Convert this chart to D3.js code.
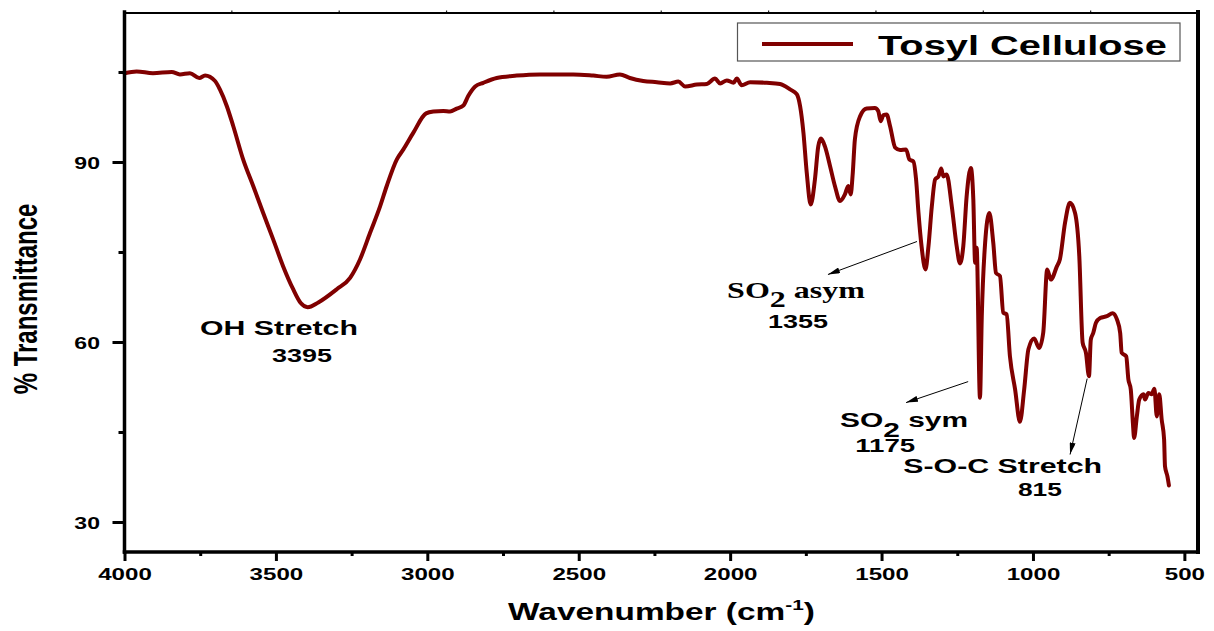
<!DOCTYPE html>
<html>
<head>
<meta charset="utf-8">
<title>FTIR spectrum – Tosyl Cellulose</title>
<script src="https://cdn.jsdelivr.net/npm/d3@7"></script>
<style>
  body { margin: 0; background: #fff; }
  svg { display: block; }
  text { font-family: "Liberation Sans", Arial, sans-serif; font-weight: bold; fill: #000; }
</style>
</head>
<body>
<svg id="chart" width="1214" height="631"></svg>
<script>
// ---- spectrum data: wavenumber (cm^-1) and % transmittance ----
const wavenumber = [
  4000,3960,3906,3844,3817,3784,3753,3734,3701,3685,
  3662,3641,3608,3575,3542,3509,3476,3443,3418,3395,
  3360,3299,3255,3222,3189,3156,3134,3101,3079,3046,
  3004,2980,2947,2925,2903,2881,2865,2842,2815,2771,
  2705,2628,2584,2518,2452,2408,2364,2331,2287,2242,
  2198,2171,2149,2110,2077,2050,2033,2011,1989,1978,
  1962,1934,1879,1835,1802,1780,1769,1758,1747,1734,
  1720,1709,1700,1687,1670,1654,1637,1621,1610,1602,
  1595,1588,1571,1549,1522,1511,1503,1494,1483,1472,
  1455,1439,1419,1408,1395,1386,1378,1368,1355,1345,
  1334,1323,1312,1303,1296,1285,1268,1252,1241,1230,
  1219,1205,1197,1191,1186,1175,1169,1158,1144,1131,
  1122,1109,1098,1087,1076,1059,1043,1029,1015,996,
  980,966,953,941,921,911,894,878,861,847,
  836,825,815,809,801,792,778,756,737,723,
  712,707,692,685,677,670,666,657,649,635,
  630,619,608,599,591,583,575,567,564,556,551
];
const transmittance = [
  104.8,105.1,104.8,105.0,104.6,104.8,104.0,104.4,103.5,102.1,
  99.3,96.0,90.4,86.0,81.5,77.1,72.6,68.8,66.5,65.8,
  66.6,68.8,70.7,73.8,78.2,82.6,86.0,90.4,92.1,94.9,
  98.1,98.4,98.5,98.4,98.9,99.4,101.0,102.6,103.2,104.0,
  104.4,104.6,104.6,104.6,104.4,104.2,104.6,104.0,103.5,103.3,
  103.1,103.4,102.6,102.9,103.0,103.9,103.1,103.6,103.2,103.9,
  102.8,103.3,103.2,103.0,102.1,101.3,99.3,94.9,88.2,82.9,
  87.1,92.6,93.9,92.6,89.3,86.0,83.5,84.6,86.0,84.6,
  88.2,93.8,97.6,98.9,99.0,98.5,96.8,97.8,97.9,96.0,
  92.4,92.0,92.1,90.4,90.1,87.1,81.5,76.0,72.1,76.0,
  82.6,87.1,87.6,88.9,87.6,87.9,82.6,76.0,73.1,76.0,
  84.3,89.0,83.8,73.2,75.7,50.7,64.3,76.5,81.5,76.5,
  71.5,71.0,64.9,64.6,57.6,52.1,46.7,52.1,58.8,60.6,
  59.0,61.6,72.1,70.4,72.6,73.8,79.9,83.2,81.5,74.3,
  59.9,58.2,54.3,60.4,61.5,63.2,64.0,64.3,64.8,63.8,
  61.5,58.2,57.6,53.8,52.1,46.5,44.0,47.6,50.4,51.3,
  50.4,51.5,51.3,52.2,47.6,51.3,47.1,43.8,39.3,37.6,36.1
];
const seriesName = "Tosyl Cellulose";

// ---- axis ticks ----
const xMajorTicks = [4000, 3500, 3000, 2500, 2000, 1500, 1000, 500];
const xMinorTicks = [3750, 3250, 2750, 2250, 1750, 1250, 750];
const yMajorTicks = [30, 60, 90];
const yMinorTicks = [45, 75, 105];

// ---- band assignments (anchor in wavenumber / %T) ----
const bandLabels = [
  { text: "OH Stretch",    wn: 3490, t: 61.2, size: 21, width: 158 },
  { text: "3395",          wn: 3414, t: 56.7, size: 18, width: 60 },
  { text: "1355",          wn: 1776, t: 62.4, size: 18, width: 60 },
  { text: "1175",          wn: 1488, t: 41.7, size: 18, width: 60 },
  { text: "S-O-C Stretch", wn: 1100, t: 38.2, size: 21, width: 199 },
  { text: "815",           wn: 977,  t: 34.4, size: 18, width: 44 }
];
const so2Labels = [
  { main: "SO", sub: "2", rest: " asym", wn: 2010, t: 67.4, size: 23, width: 138, serif: true,  drop: 9 },
  { main: "SO", sub: "2", rest: " sym",  wn: 1637, t: 45.9, size: 21, width: 128, serif: false, drop: 10 }
];
const arrows = [
  { from: [1383, 76.75], to: [1677, 71.25] },
  { from: [1214, 53.4],  to: [1419, 49.9] },
  { from: [821, 53.9],   to: [877.5, 41.25] }
];

// ---- drawing ----
const svg = d3.select("#chart");
const lineColor = "#800000";

const x = d3.scaleLinear().domain([4000, 455]).range([124.5, 1198]);
const y = d3.scaleLinear().domain([25, 115]).range([552, 12]);
const [xl, xr] = x.range();
const [yb, yt] = y.range();

// text whose width is set explicitly (glyphs stretched horizontally)
function fitText(parent, px, py, anchor, targetWidth, build) {
  const g = parent.append("g");
  const t = g.append("text").attr("text-anchor", anchor);
  build(t);
  const w = t.node().getBBox().width;
  g.attr("transform", `translate(${px},${py}) scale(${targetWidth / w},1)`);
  return g;
}

// arrowhead marker
svg.append("defs").append("marker")
  .attr("id", "arrowhead")
  .attr("viewBox", "0 0 12 6")
  .attr("refX", 12).attr("refY", 3)
  .attr("markerWidth", 12).attr("markerHeight", 6)
  .attr("markerUnits", "userSpaceOnUse")
  .attr("orient", "auto")
  .append("path").attr("d", "M0,0 L12,3 L0,6 Z").attr("fill", "#000");

// spectrum
const points = wavenumber.map((w, i) => [w, transmittance[i]]);
svg.append("path")
  .datum(points)
  .attr("fill", "none")
  .attr("stroke", lineColor)
  .attr("stroke-width", 4)
  .attr("stroke-linejoin", "round")
  .attr("stroke-linecap", "round")
  .attr("d", d3.line().x(d => x(d[0])).y(d => y(d[1])).curve(d3.curveMonotoneX));

// x axis ticks
function styleAxis(g) {
  g.select(".domain").remove();
  g.attr("font-size", null).attr("font-family", null);
  g.selectAll(".tick line").attr("stroke", "#000").attr("stroke-width", 3);
}
const gxMinor = svg.append("g").attr("transform", `translate(0,${yb})`)
  .call(d3.axisBottom(x).tickValues(xMinorTicks).tickSize(4).tickFormat(""));
styleAxis(gxMinor);
const gx = svg.append("g").attr("transform", `translate(0,${yb})`)
  .call(d3.axisBottom(x).tickValues(xMajorTicks).tickSize(9).tickFormat(d3.format("d")));
styleAxis(gx);
gx.selectAll(".tick text")
  .attr("y", 0).attr("dy", null)
  .style("font-size", "17px")
  .attr("transform", "translate(0,28) scale(1.42,1)");

// y axis ticks
const gyMinor = svg.append("g").attr("transform", `translate(${xl},0)`)
  .call(d3.axisLeft(y).tickValues(yMinorTicks).tickSize(6).tickFormat(""));
styleAxis(gyMinor);
const gy = svg.append("g").attr("transform", `translate(${xl},0)`)
  .call(d3.axisLeft(y).tickValues(yMajorTicks).tickSize(12).tickFormat(d3.format("d")));
styleAxis(gy);
gy.selectAll(".tick text")
  .attr("x", 0).attr("dy", null).attr("y", 0)
  .style("font-size", "16px")
  .attr("transform", "translate(-24.5,6) scale(1.44,1)");

// faint marks along the top edge
const topDiv = d3.scaleLinear().domain([0, 10]).range([xl, xr]);
svg.append("g").selectAll("line").data(d3.range(1, 10)).join("line")
  .attr("x1", d => topDiv(d)).attr("x2", d => topDiv(d))
  .attr("y1", yt - 1.5).attr("y2", yt + 1)
  .attr("stroke", "#222").attr("stroke-width", 1.2);

// frame
const frame = svg.append("g").attr("stroke", "#000").attr("stroke-linecap", "square");
frame.append("line").attr("x1", xl).attr("x2", xr).attr("y1", yt + 1).attr("y2", yt + 1).attr("stroke-width", 2);
frame.append("line").attr("x1", xl).attr("x2", xl).attr("y1", yt).attr("y2", yb).attr("stroke-width", 3.5);
frame.append("line").attr("x1", xr).attr("x2", xr).attr("y1", yt).attr("y2", yb).attr("stroke-width", 4);
frame.append("line").attr("x1", xl).attr("x2", xr).attr("y1", yb).attr("y2", yb).attr("stroke-width", 3.5);

// axis titles
fitText(svg, 661.5, 620, "middle", 307, t => {
  t.style("font-size", "24px");
  t.append("tspan").text("Wavenumber (cm");
  t.append("tspan").text("-1").style("font-size", "15px").attr("dy", -10);
  t.append("tspan").text(")").attr("dy", 10);
});
svg.append("g")
  .attr("transform", "translate(37,299) scale(1.4,1) rotate(-90)")
  .append("text").attr("text-anchor", "middle").style("font-size", "24px")
  .text("% Transmittance");

// band labels
bandLabels.forEach(d => {
  fitText(svg, x(d.wn), y(d.t), "middle", d.width, t => {
    t.style("font-size", d.size + "px").text(d.text);
  });
});
so2Labels.forEach(d => {
  fitText(svg, x(d.wn), y(d.t), "start", d.width, t => {
    t.style("font-size", d.size + "px");
    if (d.serif) t.style("font-family", "'Liberation Serif', 'Times New Roman', serif");
    t.append("tspan").text(d.main);
    t.append("tspan").text(d.sub).attr("dy", d.drop);
    t.append("tspan").text(d.rest).attr("dy", -d.drop);
  });
});

// arrows
svg.append("g").selectAll("line").data(arrows).join("line")
  .attr("x1", d => x(d.from[0])).attr("y1", d => y(d.from[1]))
  .attr("x2", d => x(d.to[0])).attr("y2", d => y(d.to[1]))
  .attr("stroke", "#000").attr("stroke-width", 1)
  .attr("marker-end", "url(#arrowhead)");

// legend
const legend = svg.append("g");
legend.append("rect")
  .attr("x", 737.5).attr("y", 23).attr("width", 442.5).attr("height", 38)
  .attr("fill", "#fff").attr("stroke", "#555").attr("stroke-width", 1.2);
legend.append("line")
  .attr("x1", 762).attr("x2", 853).attr("y1", 44).attr("y2", 44)
  .attr("stroke", lineColor).attr("stroke-width", 4);
fitText(legend, 878, 55, "start", 289, t => {
  t.style("font-size", "28px").text(seriesName);
});
</script>
</body>
</html>
